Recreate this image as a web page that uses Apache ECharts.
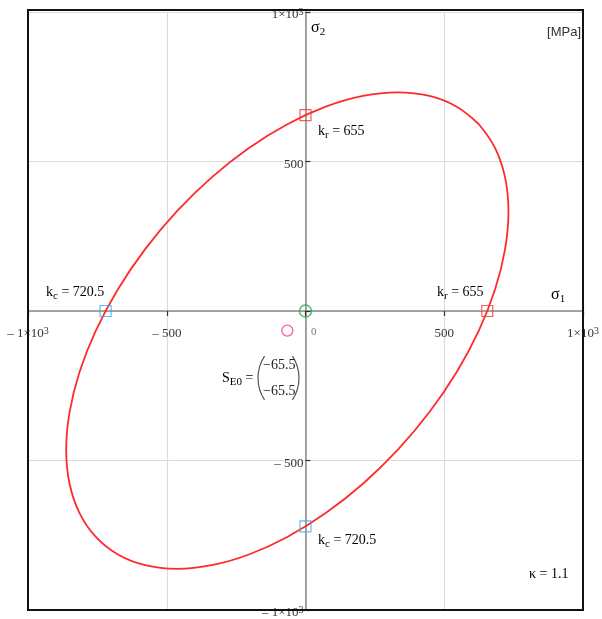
<!DOCTYPE html>
<html>
<head>
<meta charset="utf-8">
<script src="https://cdn.jsdelivr.net/npm/echarts@6/dist/echarts.min.js"></script>
<style>
  html, body { margin: 0; padding: 0; background: #fff; }
  #chart { width: 602px; height: 619px; }
</style>
</head>
<body>
<div id="chart"></div>
<script>
// ellipse outline (sigma1, sigma2) in MPa
const sigma1Pts = [624.6, 544.9, 446.7, 332.9, 207.0, 72.9, -65.5, -203.9, -338.0, -463.9, -577.7, -675.9, -755.6, -814.3, -850.2, -862.4, -850.2, -814.3, -755.6, -675.9, -577.7, -463.9, -338.0, -203.9, -65.5, 72.9, 207.0, 332.9, 446.7, 544.9, 624.6, 683.3, 719.2, 731.4, 719.2, 683.3, 624.6]
const sigma2Pts = [624.6, 683.3, 719.2, 731.4, 719.2, 683.3, 624.6, 544.9, 446.7, 332.9, 207.0, 72.9, -65.5, -203.9, -338.0, -463.9, -577.7, -675.9, -755.6, -814.3, -850.2, -862.4, -850.2, -814.3, -755.6, -675.9, -577.7, -463.9, -338.0, -203.9, -65.5, 72.9, 207.0, 332.9, 446.7, 544.9, 624.6]

const krPts = [[0, 655], [655, 0]]
const kcPts = [[-720.5, 0], [0, -720.5]]
const originPt = [[0, 0]]
const centrePt = [[-65.5, -65.5]]

const serif = '"Liberation Serif", "DejaVu Serif", serif'

// plot box in pixels
const gridL = 28
const gridT = 12
const gridW = 555
const gridH = 598

function tickLabel (v) {
  if (v === 0) return ''
  if (v === 1000) return '{n|1×10}{p|3}'
  if (v === -1000) return '{n|– 1×10}{p|3}'
  if (v < 0) return '{n|– ' + (-v) + '}'
  return '{n|' + v + '}'
}
const labelRich = {
  n: { fontFamily: serif, fontSize: 13, color: '#333', lineHeight: 16 },
  p: { fontFamily: serif, fontSize: 10, color: '#333', verticalAlign: 'top', lineHeight: 10 }
}

const txt = { fontFamily: serif, fontSize: 14, color: '#222', lineHeight: 19 }
const sub = { fontFamily: serif, fontSize: 11, color: '#222', verticalAlign: 'bottom', lineHeight: 11 }
const big = { fontFamily: serif, fontSize: 16, color: '#222', lineHeight: 20 }

function note (x, y, text) {
  return {
    type: 'text', x: x, y: y, z: 50,
    style: { text: text, verticalAlign: 'middle', rich: { t: txt, s: sub, b: big } }
  }
}

// matrix bracket
function paren (cx, start, end) {
  return {
    type: 'arc', z: 50, silent: true,
    shape: { cx: cx, cy: 378, r: 40, startAngle: start, endAngle: end },
    style: { fill: 'none', stroke: '#555', lineWidth: 1.2 }
  }
}

const ellipse = sigma1Pts.map((v, i) => [v, sigma2Pts[i]])

const chart = echarts.init(document.getElementById('chart'))
chart.setOption({
  animation: false,
  backgroundColor: '#fff',
  grid: {
    left: gridL, top: gridT, width: gridW, height: gridH,
    show: false, containLabel: false, outerBoundsMode: 'none'
  },
  xAxis: {
    type: 'value', min: -1000, max: 1000, interval: 500,
    position: 'bottom', offset: -gridH / 2,
    axisLine: { onZero: false, lineStyle: { color: '#8a8a8a', width: 1.5 } },
    axisTick: { show: true, length: 5, lineStyle: { color: '#333', width: 1.2 } },
    axisLabel: { formatter: tickLabel, rich: labelRich, margin: 15, showMinLabel: true, showMaxLabel: true, hideOverlap: false },
    splitLine: { show: true, lineStyle: { color: '#dcdcdc', width: 1.2 } }
  },
  yAxis: {
    type: 'value', min: -1000, max: 1000, interval: 500,
    position: 'left', offset: -gridW / 2,
    axisLine: { onZero: false, lineStyle: { color: '#8a8a8a', width: 1.5 } },
    axisTick: { show: true, inside: true, length: 5, lineStyle: { color: '#333', width: 1.2 } },
    axisLabel: { formatter: tickLabel, rich: labelRich, margin: 2, padding: [6, 0, 0, 0], showMinLabel: true, showMaxLabel: true, hideOverlap: false },
    splitLine: { show: true, lineStyle: { color: '#dcdcdc', width: 1.2 } }
  },
  series: [
    {
      type: 'line', data: ellipse, smooth: 0.4, showSymbol: false, z: 5,
      lineStyle: { color: '#ff2a2a', width: 1.8 }
    },
    {
      type: 'scatter', data: krPts, symbol: 'rect', symbolSize: 11, z: 6,
      itemStyle: { color: 'rgba(0,0,0,0)', borderColor: '#ff3333', borderWidth: 1.2 }
    },
    {
      type: 'scatter', data: kcPts, symbol: 'rect', symbolSize: 11, z: 6,
      itemStyle: { color: 'rgba(0,0,0,0)', borderColor: '#33aaee', borderWidth: 1.2 }
    },
    {
      type: 'scatter', data: originPt, symbol: 'circle', symbolSize: 12, z: 6,
      itemStyle: { color: 'rgba(0,0,0,0)', borderColor: '#22aa55', borderWidth: 1.5 }
    },
    {
      type: 'scatter', data: centrePt, symbol: 'circle', symbolSize: 11, z: 6,
      itemStyle: { color: 'rgba(0,0,0,0)', borderColor: '#ff3399', borderWidth: 1.3 }
    }
  ],
  graphic: [
    {
      type: 'rect', z: 40, silent: true,
      shape: { x: gridL, y: 10, width: gridW, height: 600 },
      style: { fill: 'none', stroke: '#111', lineWidth: 2 }
    },
    note(318, 131, '{t|k}{s|r}{t| = 655}'),
    note(437, 292, '{t|k}{s|r}{t| = 655}'),
    note(46, 292, '{t|k}{s|c}{t| = 720.5}'),
    note(318, 540, '{t|k}{s|c}{t| = 720.5}'),
    note(311, 28, '{b|σ}{s|2}'),
    note(551, 295, '{b|σ}{s|1}'),
    note(529, 574, '{t|κ = 1.1}'),
    note(222, 378, '{t|S}{s|E0}{t| =}'),
    {
      type: 'text', x: 581, y: 32, z: 50,
      style: { text: '[MPa]', align: 'right', verticalAlign: 'middle', font: '13px "Liberation Sans", Arial, sans-serif', fill: '#333' }
    },
    {
      type: 'text', x: 311, y: 332, z: 50,
      style: { text: '0', verticalAlign: 'middle', font: '11px ' + serif, fill: '#777' }
    },
    paren(298, Math.PI - 0.58, Math.PI + 0.58),
    paren(259, -0.58, 0.58),
    {
      type: 'text', x: 263, y: 365, z: 50,
      style: { text: '−65.5', verticalAlign: 'middle', font: '14px ' + serif, fill: '#222' }
    },
    {
      type: 'text', x: 263, y: 391, z: 50,
      style: { text: '−65.5', verticalAlign: 'middle', font: '14px ' + serif, fill: '#222' }
    }
  ]
})
</script>
</body>
</html>
